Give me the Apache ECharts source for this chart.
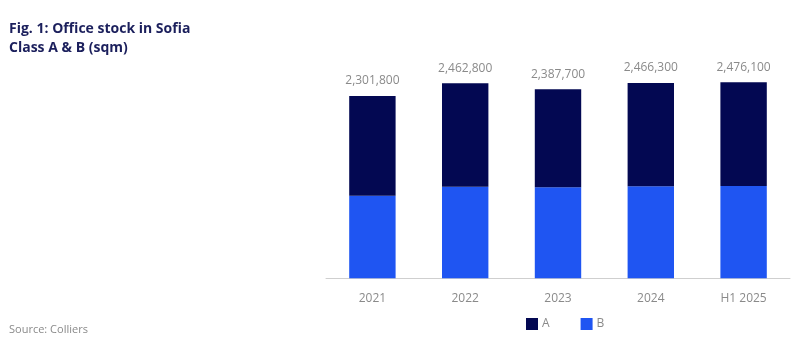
<!DOCTYPE html>
<html>
<head>
<meta charset="utf-8">
<script src="https://cdn.jsdelivr.net/npm/echarts@6/dist/echarts.min.js"></script>
<style>
html,body{margin:0;padding:0;background:#fff;}
#chart{width:803px;height:357px;}
</style>
</head>
<body>
<div id="chart"></div>
<script>
const categories = ['2021', '2022', '2023', '2024', 'H1 2025'];
const classB = [1043000, 1157000, 1149000, 1162000, 1166000];
const classA = [1258800, 1305800, 1238700, 1304300, 1310100];
const totals = [2301800, 2462800, 2387700, 2466300, 2476100];

const chart = echarts.init(document.getElementById('chart'));
const fmt = v => v.toString().replace(/\B(?=(\d{3})+(?!\d))/g, ',');
chart.setOption({
  animation: false,
  textStyle: { fontFamily: 'Open Sans' },
  title: [
    { text: 'Fig. 1: Office stock in Sofia\nClass A & B (sqm)', left: 4, top: 15,
      textStyle: { fontFamily: 'Open Sans', fontWeight: 'bold', fontSize: 14, color: '#1b1f5c', lineHeight: 19 } },
    { text: 'Source: Colliers', left: 4, top: 319,
      textStyle: { fontFamily: 'Open Sans', fontWeight: 'normal', fontSize: 11, color: '#8a8a8a' } }
  ],
  legend: {
    data: ['A', 'B'], left: 521, top: 313, itemWidth: 12, itemHeight: 12, itemGap: 31,
    icon: 'rect',
    textStyle: { color: '#8a8a8a', fontSize: 12, padding: [0, 0, 0, -1] }
  },
  grid: { left: 326, right: 13, top: 40.7, bottom: 78.7, containLabel: false },
  xAxis: {
    type: 'category', data: categories,
    axisLine: { lineStyle: { color: '#cfcfcf', width: 1 } },
    axisTick: { show: false },
    axisLabel: { color: '#8a8a8a', fontSize: 12, margin: 14 }
  },
  yAxis: { type: 'value', min: 0, max: 3000000, show: false, splitLine: { show: false } },
  series: [
    { name: 'B', type: 'bar', stack: 's', data: classB, barWidth: '50%',
      itemStyle: { color: '#1f55f2' } },
    { name: 'A', type: 'bar', stack: 's', data: classA, barWidth: '50%',
      itemStyle: { color: '#030852' },
      label: { show: true, position: 'top', distance: 9, color: '#8a8a8a', fontSize: 12,
        formatter: p => fmt(totals[p.dataIndex]) } }
  ]
});
</script>
</body>
</html>
